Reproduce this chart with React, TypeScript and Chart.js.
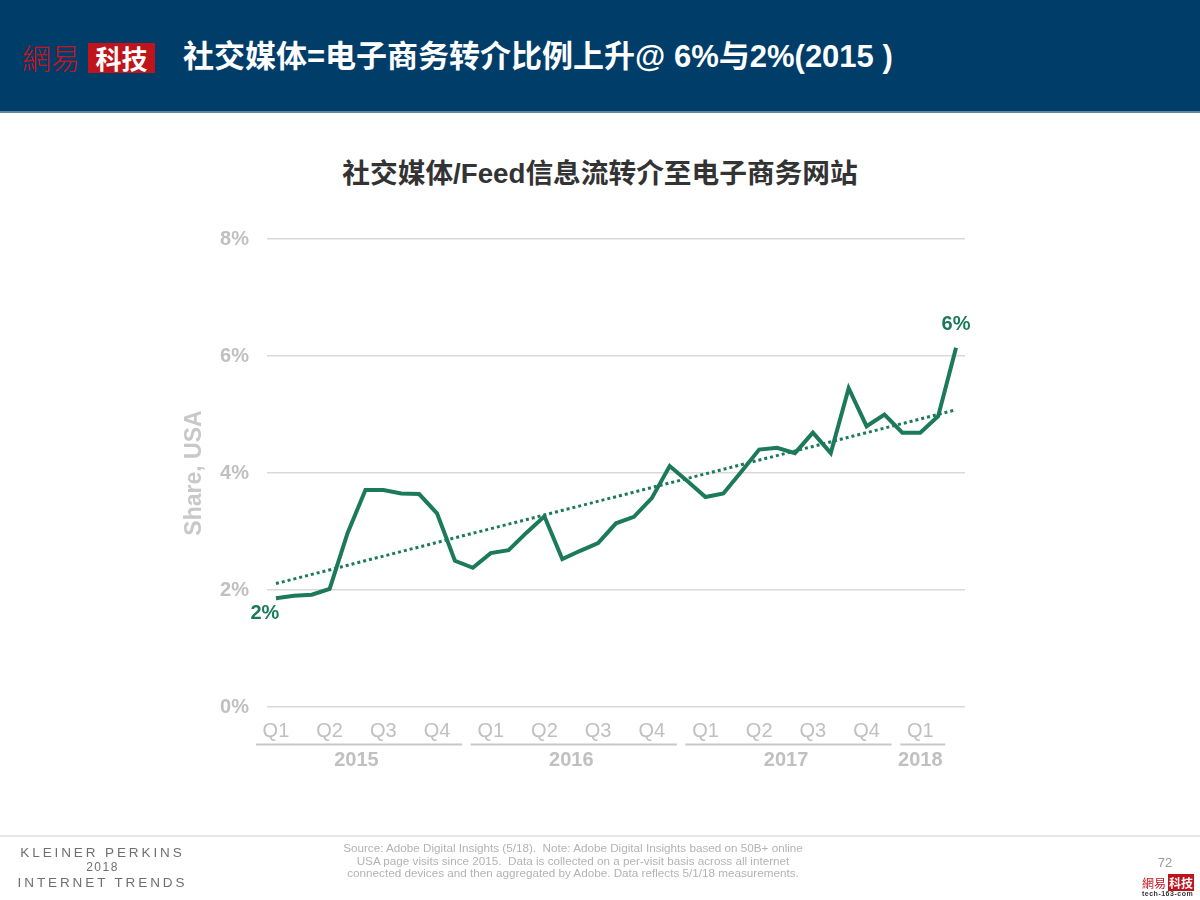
import React, { useEffect, useRef } from "react";
import { Chart, registerables } from "chart.js";

Chart.register(...registerables);

// ---- data ----
const months: string[] = [
  "2015-01", "2015-02", "2015-03", "2015-04", "2015-05", "2015-06", "2015-07", "2015-08", "2015-09", "2015-10", "2015-11", "2015-12",
  "2016-01", "2016-02", "2016-03", "2016-04", "2016-05", "2016-06", "2016-07", "2016-08", "2016-09", "2016-10", "2016-11", "2016-12",
  "2017-01", "2017-02", "2017-03", "2017-04", "2017-05", "2017-06", "2017-07", "2017-08", "2017-09", "2017-10", "2017-11", "2017-12",
  "2018-01", "2018-02", "2018-03",
];
const shareValues: number[] = [
  1.86, 1.9, 1.92, 2.02, 2.97, 3.71, 3.71, 3.65, 3.64, 3.31, 2.5, 2.38,
  2.63, 2.68, 2.98, 3.26, 2.53, 2.67, 2.8, 3.14, 3.25, 3.57, 4.12, 3.86,
  3.59, 3.65, 4.02, 4.4, 4.43, 4.34, 4.69, 4.34, 5.45, 4.8, 5.0, 4.69,
  4.69, 4.97, 6.14,
];
const trendStart = 2.11;
const trendEnd = 5.08;
const quarterLabels: string[] = ["Q1", "Q2", "Q3", "Q4"];
const years: string[] = ["2015", "2016", "2017", "2018"];
const yTicks: number[] = [0, 2, 4, 6, 8];
const firstLabel = "2%";
const lastLabel = "6%";

const GREEN = "#1c7a5b";
const GRAY = "#c0c0c0";
const LATIN = '"Liberation Sans", Arial, sans-serif';
const NARROW = '"Liberation Sans Narrow", "Arial Narrow", "Liberation Sans", sans-serif';
const CJK = '"Liberation Sans", "Noto Sans CJK SC", sans-serif';

const overlayPlugin = {
  id: "overlay",
  afterDraw(chart: any) {
    const ctx = chart.ctx;
    const xs = chart.scales.x;
    const ys = chart.scales.y;
    ctx.save();
    // y axis title
    ctx.translate(195, (ys.top + ys.bottom) / 2);
    ctx.rotate(-Math.PI / 2);
    ctx.font = `bold 23px ${LATIN}`;
    ctx.fillStyle = "#c8c8c8";
    ctx.textAlign = "center";
    ctx.textBaseline = "middle";
    ctx.fillText("Share, USA", 0, 0);
    ctx.restore();

    // year groups
    ctx.save();
    ctx.font = `bold 20px ${NARROW}`;
    ctx.fillStyle = GRAY;
    ctx.textAlign = "center";
    ctx.textBaseline = "middle";
    ctx.strokeStyle = "#c8c8c8";
    ctx.lineWidth = 2;
    years.forEach((yr) => {
      const idxs = months
        .map((m, i) => ({ m, i }))
        .filter((o) => o.m.startsWith(yr) && o.i % 3 === 0)
        .map((o) => o.i);
      if (!idxs.length) return;
      const a = xs.getPixelForValue(idxs[0]);
      const b = xs.getPixelForValue(idxs[idxs.length - 1]);
      ctx.beginPath();
      ctx.moveTo(a - 20, 744.5);
      ctx.lineTo(b + 25, 744.5);
      ctx.stroke();
      ctx.fillText(yr, (a + b) / 2, 760);
    });
    ctx.restore();

    // end labels
    const meta = chart.getDatasetMeta(0);
    const p0 = meta.data[0];
    const pN = meta.data[meta.data.length - 1];
    ctx.save();
    ctx.font = `bold 20px ${LATIN}`;
    ctx.fillStyle = GREEN;
    ctx.textAlign = "center";
    ctx.textBaseline = "middle";
    ctx.fillText(firstLabel, p0.x - 11, p0.y + 15);
    ctx.fillText(lastLabel, pN.x, pN.y - 23);
    ctx.restore();
  },
};

function ChartView() {
  const ref = useRef<HTMLCanvasElement | null>(null);
  useEffect(() => {
    if (!ref.current) return;
    const chart = new Chart(ref.current, {
      type: "line",
      data: {
        labels: months,
        datasets: [
          {
            data: shareValues,
            borderColor: GREEN,
            borderWidth: 4,
            pointRadius: 0,
            tension: 0,
            borderJoinStyle: "miter",
          },
          {
            data: [
              { x: months[0], y: trendStart },
              { x: months[months.length - 1], y: trendEnd },
            ] as any,
            borderColor: GREEN,
            borderWidth: 3,
            borderDash: [3, 3],
            pointRadius: 0,
          },
        ],
      },
      plugins: [overlayPlugin],
      options: {
        responsive: false,
        animation: false,
        layout: { padding: { top: 239, right: 235, bottom: 0, left: 0 } },
        plugins: { legend: { display: false }, tooltip: { enabled: false } },
        scales: {
          x: {
            type: "category",
            offset: true,
            grid: { display: false, drawTicks: false },
            border: { display: false },
            afterFit: (s: any) => {
              s.height = 193;
            },
            ticks: {
              autoSkip: false,
              maxRotation: 0,
              padding: 12,
              color: GRAY,
              font: { family: NARROW, size: 20 },
              callback: (_v: any, i: number) =>
                i % 3 === 0 ? quarterLabels[Math.floor((i % 12) / 3)] : "",
            },
          },
          y: {
            min: yTicks[0],
            max: yTicks[yTicks.length - 1],
            afterFit: (s: any) => {
              s.width = 267;
            },
            afterBuildTicks: (s: any) => {
              s.ticks = yTicks.map((v) => ({ value: v }));
            },
            grid: { color: "#d9d9d9", lineWidth: 1.5, drawTicks: false },
            border: { display: false },
            ticks: {
              padding: 18,
              color: GRAY,
              font: { family: LATIN, size: 20, weight: "bold" },
              callback: (v: any) => `${v}%`,
            },
          },
        },
      },
    } as any);
    return () => chart.destroy();
  }, []);
  return (
    <canvas
      ref={ref}
      width={1200}
      height={900}
      style={{ position: "absolute", left: 0, top: 0, width: 1200, height: 900 }}
    />
  );
}

export default function App() {
  return (
    <div
      style={{
        position: "absolute",
        left: 0,
        top: 0,
        width: 1200,
        height: 900,
        background: "#fff",
        overflow: "hidden",
        fontFamily: CJK,
      }}
    >
      {/* header */}
      <div style={{ position: "absolute", left: 0, top: 0, width: 1200, height: 111, background: "#003d69" }} />
      <div style={{ position: "absolute", left: 0, top: 111, width: 1200, height: 2, background: "#5d86a3" }} />
      <div
        style={{
          position: "absolute",
          left: 22,
          top: 38,
          fontFamily: '"Noto Sans CJK TC", sans-serif',
          fontWeight: 300,
          fontSize: 29,
          lineHeight: "38px",
          color: "#c8141e",
          letterSpacing: 0,
        }}
      >
        網易
      </div>
      <div
        style={{
          position: "absolute",
          left: 88,
          top: 43,
          width: 67,
          height: 30,
          background: "#c0141c",
          color: "#fff",
          fontFamily: '"Noto Sans CJK SC", sans-serif',
          fontWeight: 700,
          fontSize: 26,
          lineHeight: "30px",
          textAlign: "center",
        }}
      >
        科技
      </div>
      <div
        style={{
          position: "absolute",
          left: 183,
          top: 37,
          color: "#fff",
          fontWeight: 700,
          fontSize: 31,
          lineHeight: "40px",
          whiteSpace: "nowrap",
        }}
      >
        社交媒体=电子商务转介比例上升@ 6%与2%(2015 )
      </div>

      {/* chart title */}
      <div
        style={{
          position: "absolute",
          left: 0,
          width: 1200,
          top: 155,
          textAlign: "center",
          color: "#333333",
          fontWeight: 700,
          fontSize: 27.7,
          lineHeight: "38px",
        }}
      >
        社交媒体/Feed信息流转介至电子商务网站
      </div>

      <ChartView />

      {/* footer */}
      <div style={{ position: "absolute", left: 0, top: 835, width: 1200, height: 2, background: "#e6e6e6" }} />
      <div
        style={{
          position: "absolute",
          left: 0,
          width: 205,
          top: 845,
          textAlign: "center",
          color: "#6f6f6f",
          fontFamily: LATIN,
          fontSize: 13.5,
          lineHeight: "15px",
          letterSpacing: 2.9,
        }}
      >
        <div>KLEINER PERKINS</div>
        <div style={{ fontSize: 12, letterSpacing: 1.5 }}>2018</div>
        <div>INTERNET TRENDS</div>
      </div>
      <div
        style={{
          position: "absolute",
          left: 323,
          width: 500,
          top: 842,
          textAlign: "center",
          color: "#b3b3b3",
          fontFamily: NARROW,
          fontSize: 11.7,
          lineHeight: "12.5px",
        }}
      >
        Source: Adobe Digital Insights (5/18).&nbsp; Note: Adobe Digital Insights based on 50B+ online
        <br />
        USA page visits since 2015.&nbsp; Data is collected on a per-visit basis across all internet
        <br />
        connected devices and then aggregated by Adobe. Data reflects 5/1/18 measurements.
      </div>
      <div
        style={{
          position: "absolute",
          left: 1150,
          width: 30,
          top: 855,
          textAlign: "center",
          color: "#9a9a9a",
          fontFamily: LATIN,
          fontSize: 13,
          lineHeight: "16px",
        }}
      >
        72
      </div>
      <div
        style={{
          position: "absolute",
          left: 1142,
          top: 876,
          fontFamily: '"Noto Sans CJK TC", sans-serif',
          fontSize: 12,
          lineHeight: "14px",
          color: "#c8141e",
          whiteSpace: "nowrap",
        }}
      >
        網易
        <span style={{ background: "#c0141c", color: "#fff", fontWeight: 700, padding: "0 1px", marginLeft: 2 }}>科技</span>
      </div>
      <div
        style={{
          position: "absolute",
          left: 1142,
          top: 890,
          fontFamily: LATIN,
          fontSize: 7,
          lineHeight: "8px",
          color: "#333",
          fontWeight: 700,
          letterSpacing: 0.5,
        }}
      >
        tech-163-com
      </div>
    </div>
  );
}
